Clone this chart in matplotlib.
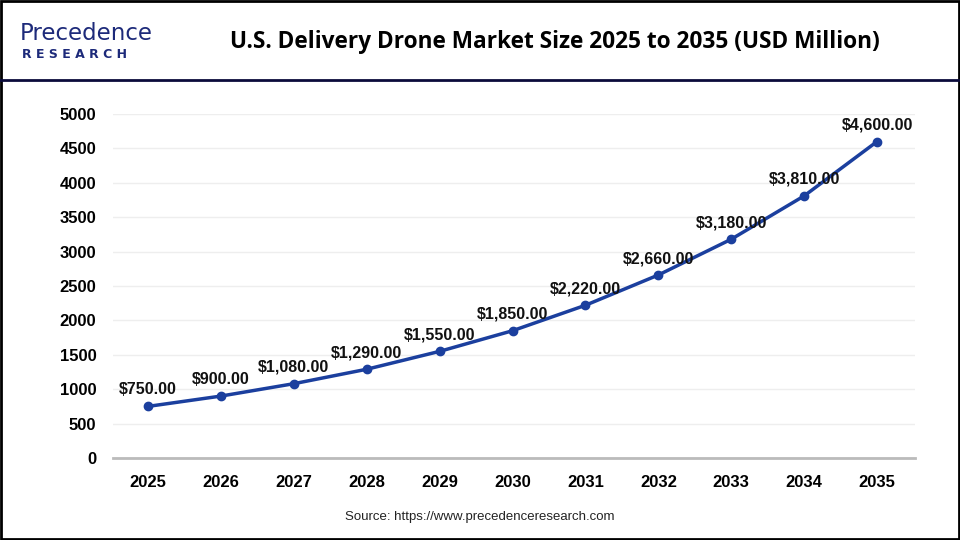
import matplotlib.pyplot as plt
from matplotlib.patches import Rectangle
from matplotlib.lines import Line2D

years = [2025, 2026, 2027, 2028, 2029, 2030, 2031, 2032, 2033, 2034, 2035]
values = [750, 900, 1080, 1290, 1550, 1850, 2220, 2660, 3180, 3810, 4600]
yticks = [0, 500, 1000, 1500, 2000, 2500, 3000, 3500, 4000, 4500, 5000]

plt.rcParams['font.family'] = ['Liberation Sans', 'DejaVu Sans']

fig = plt.figure(figsize=(9.6, 5.4), dpi=100)

# frame and header line
fig.add_artist(Rectangle((0.001, 0.001), 0.998, 0.997, transform=fig.transFigure,
                         fill=False, edgecolor='black', linewidth=2))
fig.add_artist(Line2D([0, 1], [1 - 80 / 540] * 2, transform=fig.transFigure,
                      color='#0b0b3b', linewidth=2))

# logo
fig.text(20 / 960, 1 - 34 / 540, 'Precedence', fontsize=16.5, color='#1d2a7a',
         va='center', ha='left', family='DejaVu Sans')
fig.text(22 / 960, 1 - 55 / 540, 'R E S E A R C H', fontsize=9, color='#1d2a7a',
         fontweight='bold', va='center', ha='left', family='DejaVu Sans')

fig.text(555 / 960, 1 - 42 / 540,
         'U.S. Delivery Drone Market Size 2025 to 2035 (USD Million)',
         fontsize=16.3, fontweight='bold', ha='center', va='center',
         family=['Open Sans', 'DejaVu Sans'])

ax = fig.add_axes([113 / 960, 1 - 458 / 540, (915 - 113) / 960, (458 - 114) / 540])
ax.plot(years, values, color='#1b3f9e', linewidth=2.5, marker='o', markersize=6)

for x, v in zip(years, values):
    ax.text(x, v + 130, '${:,.2f}'.format(v), ha='center', va='bottom',
            fontsize=11.5, fontweight='bold', color='#111111')

ax.set_xlim(2025 - 0.48, 2035 + 0.52)
ax.set_ylim(0, 5000)
ax.set_xticks(years)
ax.set_yticks(yticks)
ax.tick_params(axis='both', length=0, labelsize=12, pad=12)
for lab in ax.get_xticklabels() + ax.get_yticklabels():
    lab.set_fontweight('bold')
ax.grid(axis='y', color='#eeeeee', linewidth=1)
ax.set_axisbelow(True)
for s in ['top', 'right', 'left']:
    ax.spines[s].set_visible(False)
ax.spines['bottom'].set_color('#bbbbbb')
ax.spines['bottom'].set_linewidth(2)

fig.text(480 / 960, 1 - 517 / 540, 'Source: https://www.precedenceresearch.com',
         fontsize=9.5, ha='center', va='center', color='#222222')

plt.savefig('out.png', dpi=100)
